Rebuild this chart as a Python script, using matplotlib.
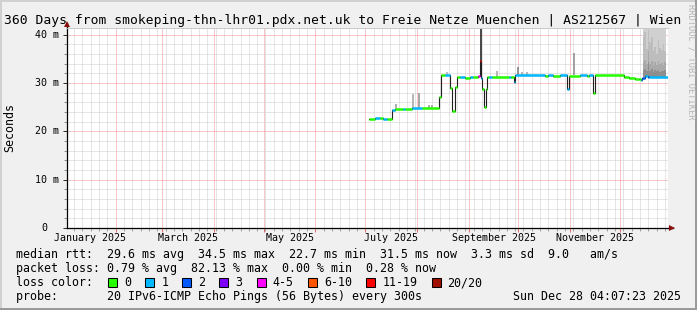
import matplotlib
matplotlib.use("Agg")
import matplotlib.pyplot as plt
import matplotlib.dates as mdates
import matplotlib.transforms as mtrans
from matplotlib.ticker import MultipleLocator, NullFormatter
from matplotlib.patches import Rectangle
import pandas as pd

W, H, DPI = 697, 310, 100
MONO = 'DejaVu Sans Mono'

# ---------------- data ----------------
title = "360 Days from smokeping-thn-lhr01.pdx.net.uk to Freie Netze Muenchen | AS212567 | Wien"
x_start = "2025-01-02 18:00"
x_end = "2025-12-29 20:00"
y_top = 41.45
y_ticks = [0, 10, 20, 30, 40]
y_tick_labels = ["0", "10 m", "20 m", "30 m", "40 m"]
y_label = "Seconds"
month_labels = ["January 2025", "March 2025", "May 2025", "July 2025",
                "September 2025", "November 2025"]
month_label_dates = ["2025-01-16 12:00", "2025-03-16 12:00", "2025-05-16 12:00",
                     "2025-07-16 12:00", "2025-09-16 00:00", "2025-11-16 00:00"]

# median RTT (ms) as steps: value holds from date until the next date
med_dates = ["2025-07-03 05:00", "2025-07-06 19:00", "2025-07-09 19:00", "2025-07-11 19:00",
             "2025-07-14 00:00", "2025-07-17 05:00", "2025-07-18 19:00", "2025-07-23 19:00",
             "2025-07-25 00:00", "2025-07-28 19:00", "2025-08-03 22:00", "2025-08-14 10:00",
             "2025-08-15 07:00", "2025-08-18 00:00", "2025-08-20 22:00", "2025-08-22 02:00",
             "2025-08-24 00:00", "2025-08-25 05:00", "2025-08-26 19:00", "2025-08-29 22:00",
             "2025-09-01 22:00", "2025-09-03 12:00", "2025-09-06 22:00", "2025-09-07 17:00",
             "2025-09-08 17:00", "2025-09-09 07:00", "2025-09-10 12:00", "2025-09-11 07:00",
             "2025-09-12 00:00", "2025-09-13 07:00", "2025-09-15 00:00", "2025-09-25 07:00",
             "2025-09-26 19:00", "2025-09-28 07:00", "2025-09-28 19:00", "2025-10-16 22:00",
             "2025-10-18 17:00", "2025-10-21 17:00", "2025-10-25 22:00", "2025-10-29 22:00",
             "2025-10-31 02:00", "2025-11-07 00:00", "2025-11-11 05:00", "2025-11-12 10:00",
             "2025-11-15 00:00", "2025-11-15 19:00", "2025-12-03 10:00", "2025-12-06 10:00",
             "2025-12-10 00:00", "2025-12-12 10:00", "2025-12-13 14:00", "2025-12-14 00:00",
             "2025-12-16 00:00", "2025-12-17 19:00", "2025-12-18 12:00"]
med_end = "2025-12-29 20:00"
med_values = [22.5, 22.7, 22.7, 22.6, 22.6, 24.3, 24.7, 24.7, 24.7, 24.8, 24.9, 27.1,
              31.7, 31.6, 29.0, 24.2, 29.1, 31.3, 31.2, 31.1, 31.2, 31.2, 31.4, 34.5,
              31.0, 28.8, 25.0, 28.8, 31.2, 31.2, 31.3, 31.3, 31.3, 30.2, 31.6, 31.5,
              31.6, 31.5, 31.6, 28.8, 31.5, 31.6, 31.5, 31.6, 27.9, 31.7, 31.2, 31.0,
              30.9, 30.7, 30.6, 31.1, 31.4, 31.3, 31.3]
med_loss = [0, 1, 0, 1, 0, 1, 0, 1, 0, 1, 0, 0,
            0, 1, 0, 0, 0, 0, 1, 0, 1, 0, 4, 6,
            1, 0, 0, 0, 0, 1, 0, 1, 0, 1, 1, 0,
            1, 0, 1, 1, 0, 1, 0, 1, 0, 0, 0, 0,
            0, 0, 1, 2, 1, 2, 1]

loss_labels = ["0", "1", "2", "3", "4-5", "6-10", "11-19", "20/20"]
loss_colors = ['#26ff00', '#00b8ff', '#0059ff', '#7e00ff',
               '#ff00ff', '#ff5500', '#ff0000', '#a01000']

# isolated smoke spikes (ms)
spike_dates = ["2025-07-19 12:00", "2025-07-29 19:00", "2025-08-02 00:00", "2025-08-08 12:00",
               "2025-08-10 00:00", "2025-08-19 00:00", "2025-09-08 06:00", "2025-09-18 00:00",
               "2025-09-30 22:00", "2025-10-03 00:00", "2025-10-06 00:00", "2025-11-03 10:00"]
spike_base = [24.7, 24.8, 24.8, 24.9, 24.9, 31.6, 31.3, 31.2, 31.5, 31.5, 31.5, 31.6]
spike_top = [25.6, 27.8, 28.0, 25.4, 25.4, 32.2, 44.0, 32.4, 33.3, 32.3, 32.2, 36.2]
spike_shade = ['#a8a8a8', '#b0b0b0', '#a0a0a0', '#a8a8a8', '#a8a8a8', '#b8b8b8',
               '#383838', '#b0b0b0', '#8c8c8c', '#b0b0b0', '#b0b0b0', '#9a9a9a']

# heavy smoke at the end of the period
end_smoke_dates = ["2025-12-14 14:00", "2025-12-15 14:00", "2025-12-16 14:00", "2025-12-17 14:00",
                   "2025-12-18 14:00", "2025-12-19 14:00", "2025-12-20 14:00", "2025-12-21 14:00",
                   "2025-12-22 14:00", "2025-12-23 14:00", "2025-12-24 14:00", "2025-12-25 14:00",
                   "2025-12-26 14:00", "2025-12-27 14:00", "2025-12-28 14:00"]
end_smoke_base = 31.2
smoke_outer = [43.0, 43.0, 43.0, 43.0, 43.0, 43.0, 43.0, 43.0, 43.0, 43.0, 43.0, 43.0, 43.0, 43.0]
smoke_mid = [39.5, 40.5, 37.0, 41.0, 38.5, 39.5, 36.5, 37.5, 36.0, 38.8, 37.2, 36.8, 38.0, 36.5]
smoke_inner = [34.2, 34.8, 33.9, 36.5, 34.0, 34.6, 33.8, 34.3, 33.6, 34.5, 33.9, 34.1, 33.7, 34.4]
smoke_core = [32.6, 32.9, 32.4, 34.3, 32.5, 32.8, 32.3, 32.6, 32.4, 32.7, 32.3, 32.5, 32.4, 32.6]
smoke_colors = ['#d0d0d0', '#bdbdbd', '#a9a9a9', '#8e8e8e']

stats_rtt = "median rtt:  29.6 ms avg  34.5 ms max  22.7 ms min  31.5 ms now  3.3 ms sd  9.0   am/s"
stats_loss = "packet loss: 0.79 % avg  82.13 % max  0.00 % min  0.28 % now"
loss_title = "loss color:"
probe_text = "probe:       20 IPv6-ICMP Echo Pings (56 Bytes) every 300s"
date_text = "Sun Dec 28 04:07:23 2025"
watermark = "RRDTOOL / TOBI OETIKER"

# ---------------- figure ----------------
def fx(x):
    return x / W


def fy(y):
    return 1 - y / H


def dnum(s):
    return mdates.date2num(pd.Timestamp(s).to_pydatetime())


fig = plt.figure(figsize=(W / DPI, H / DPI), dpi=DPI, facecolor='#f0f0f0')

for (x, y, w, h, c) in [(0, 0, W, 2, '#d0d0d0'), (0, 0, 2, H, '#d0d0d0'),
                        (W - 2, 0, 2, H, '#9a9a9a'), (0, H - 2, W, 2, '#9a9a9a')]:
    fig.add_artist(Rectangle((fx(x), fy(y + h)), w / W, h / H,
                             transform=fig.transFigure, color=c, lw=0))

PL, PR, PT, PB = 67, 668, 27.5, 228
ax = fig.add_axes([fx(PL), fy(PB), (PR - PL) / W, (PB - PT) / H])
ax.set_facecolor('white')
ax.set_xlim(dnum(x_start), dnum(x_end))
ax.set_ylim(0, y_top)

# grid
ax.xaxis.set_major_locator(mdates.MonthLocator())
ax.xaxis.set_minor_locator(MultipleLocator(5))
ax.yaxis.set_major_locator(MultipleLocator(10))
ax.yaxis.set_minor_locator(MultipleLocator(2))
ax.xaxis.set_major_formatter(NullFormatter())
ax.yaxis.set_major_formatter(NullFormatter())
ax.set_axisbelow(True)
ax.grid(which='minor', color='#cdcdcd', lw=0.72, ls=(0, (1, 1)))
ax.grid(which='major', color='#f29090', lw=0.72, ls=(0, (1, 1)))
ax.tick_params(axis='x', which='major', length=3, width=0.72, color='#e07070', direction='out')
ax.tick_params(axis='x', which='minor', length=2, width=0.72, color='#a0a0a0', direction='out')
ax.tick_params(axis='y', which='major', length=3, width=0.72, color='#303030', direction='out')
ax.tick_params(axis='y', which='minor', length=2, width=0.72, color='#909090', direction='out')

ax.spines['right'].set_visible(False)
ax.spines['top'].set_color('#c8c8c8')
ax.spines['top'].set_linestyle((0, (1, 1)))
ax.spines['top'].set_linewidth(0.72)
for s in ['left', 'bottom']:
    ax.spines[s].set_color('#000000')
    ax.spines[s].set_linewidth(0.9)

# axis extensions and arrows
ax.plot([1, 1 + 5 / (PR - PL)], [0, 0], color='#000000', lw=0.9,
        transform=ax.transAxes, clip_on=False)
ax.plot([0, 0], [1, 1 + 4 / (PB - PT)], color='#000000', lw=0.9,
        transform=ax.transAxes, clip_on=False)
ax.plot([1 + 4 / (PR - PL)], [0], marker='>', ms=4.2, color='#8b1010', mew=0,
        transform=ax.transAxes, clip_on=False)
ax.plot([0], [1 + 3.5 / (PB - PT)], marker='^', ms=4.2, color='#8b1010', mew=0,
        transform=ax.transAxes, clip_on=False)

# end smoke
sd = [dnum(s) for s in end_smoke_dates]
for layer, col in zip([smoke_outer, smoke_mid, smoke_inner, smoke_core], smoke_colors):
    ax.fill_between(sd, end_smoke_base, layer + [layer[-1]], step='post',
                    color=col, lw=0, zorder=2)

# spikes
ax.vlines([dnum(s) for s in spike_dates], spike_base, spike_top, colors=spike_shade,
          lw=1.3, zorder=2)

# median
md = [dnum(s) for s in med_dates] + [dnum(med_end)]
ax.step(md, med_values + [med_values[-1]], where='post', color='#202020', lw=0.8, zorder=3)
ax.hlines(med_values, md[:-1], md[1:], colors=[loss_colors[c] for c in med_loss],
          lw=1.8, zorder=4, capstyle='butt')

# tick labels
trx = mtrans.blended_transform_factory(ax.transData, fig.transFigure)
for d, lab in zip(month_label_dates, month_labels):
    ax.text(dnum(d), fy(241), lab, transform=trx, ha='center', va='baseline',
            fontsize=7.2, family=MONO, color='#000000')
cw_tick = 6.0
try_ = mtrans.blended_transform_factory(fig.transFigure, ax.transData)
for v, lab in zip(y_ticks, y_tick_labels):
    xl = 35.2 + cw_tick * (2 - len(str(v)))
    ax.text(fx(xl), v, lab, transform=try_, ha='left', va='center',
            fontsize=7.2, family=MONO, color='#000000')

fig.text(fx(10), fy(127.5), y_label, rotation=90, ha='center', va='center',
         fontsize=8.4, family=MONO, color='#000000')

# title
fig.text(fx(4.5), fy(24), title, ha='left', va='baseline', fontsize=9.4,
         family=MONO, color='#000000')
fig.text(fx(690.5), fy(62), watermark, rotation=270, ha='center', va='center',
         fontsize=6.2, family=MONO, color='#b4b4b4')

# legend / stats
fig.text(fx(16), fy(258.3), stats_rtt, ha='left', va='baseline', fontsize=8.4, family=MONO)
fig.text(fx(16), fy(272), stats_loss, ha='left', va='baseline', fontsize=8.4, family=MONO)
fig.text(fx(16), fy(286), loss_title, ha='left', va='baseline', fontsize=8.4, family=MONO)
fig.text(fx(16), fy(299.7), probe_text, ha='left', va='baseline', fontsize=8.4, family=MONO)
fig.text(fx(681), fy(299.7), date_text, ha='right', va='baseline', fontsize=8.4, family=MONO)

cw = 7.05
bx = 108.0
for lab, col in zip(loss_labels, loss_colors):
    fig.add_artist(Rectangle((fx(bx), fy(286.5)), 9 / W, 9 / H, transform=fig.transFigure,
                             facecolor=col, edgecolor='#000000', lw=0.75))
    fig.text(fx(bx + 16), fy(286), lab, ha='left', va='baseline', fontsize=8.4, family=MONO)
    bx = bx + 16 + len(lab) * cw + 2 * cw

fig.savefig('out.png', dpi=DPI, facecolor=fig.get_facecolor())
